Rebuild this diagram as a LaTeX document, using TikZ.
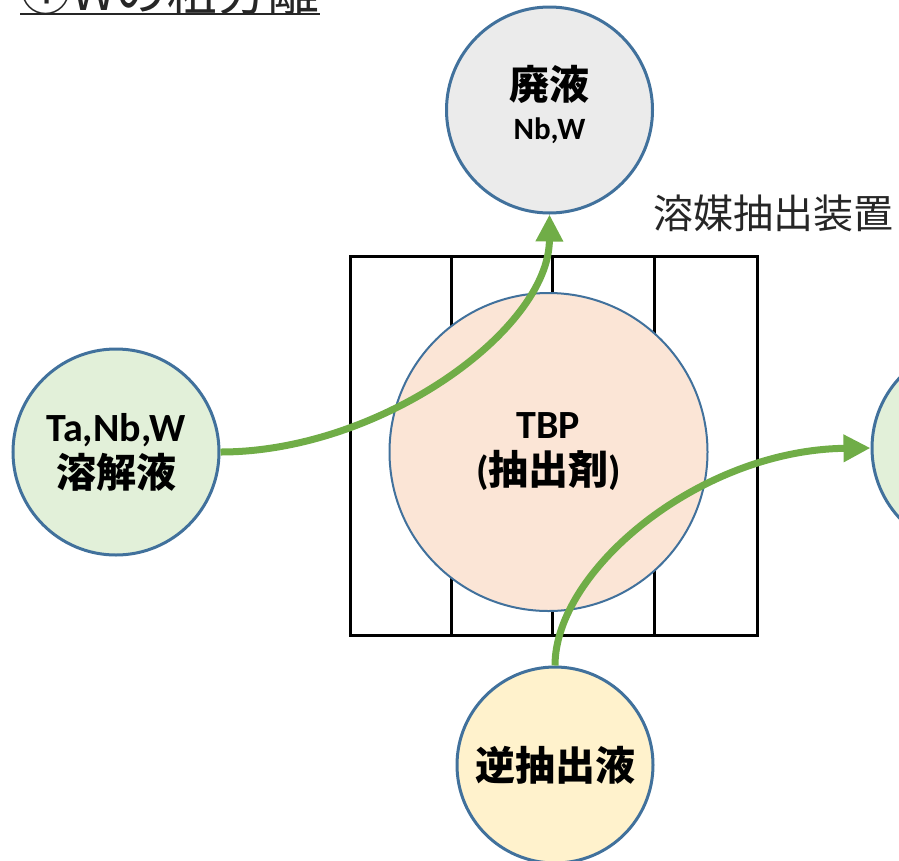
\documentclass[tikz,border=0pt]{standalone}
\usepackage{fontspec}
\usetikzlibrary{arrows.meta}
\newfontfamily\jp{Noto Sans CJK JP}
\newfontfamily\lat{Carlito}
\definecolor{bordblue}{HTML}{41719C}
\definecolor{flowgreen}{HTML}{70AD47}
\definecolor{grayfill}{HTML}{EBEBEB}
\definecolor{greenfill}{HTML}{E2F0D9}
\definecolor{pinkfill}{HTML}{FBE5D6}
\definecolor{yellowfill}{HTML}{FFF2CC}
\definecolor{textgray}{HTML}{262626}
\tikzset{
  tank/.style={circle, draw=bordblue, line width=3pt, inner sep=0pt, minimum size=206pt, align=center},
  flow/.style={draw=flowgreen, line width=7pt, -{Triangle[length=27pt,width=26pt]}},
  bigtxt/.style={font=\bfseries\fontsize{40}{46}\selectfont},
}
\newcommand{\latb}[1]{{\lat\bfseries #1}}
\newcommand{\jpb}[1]{{\jp\bfseries #1}}
\begin{document}
\begin{tikzpicture}[x=1pt,y=-1pt]
\useasboundingbox (0,0) rectangle (899,860);
% title
\node[anchor=base west, inner sep=0pt, text=textgray, font=\jp\fontsize{51}{51}\selectfont] (title) at (20,10) {①Wの粗分離};
\draw[textgray, line width=2pt] ([yshift=-4pt]title.base west) -- ([yshift=-4pt]title.base east);
% device label
\node[anchor=west, inner sep=0pt, text=textgray, font=\jp\fontsize{40}{40}\selectfont] (dev) at (653,213) {溶媒抽出装置};
% extraction device
\node[draw=black, line width=3pt, fill=white, minimum width=407pt, minimum height=379pt, inner sep=0pt] (box) at (553.5,445.5) {};
\foreach \x in {451,552,654} \draw[black, line width=3pt] (\x,256) -- (\x,635);
% TBP
\node[circle, draw=bordblue, line width=2pt, fill=pinkfill, minimum size=318pt, inner sep=0pt, align=center, bigtxt] (tbp) at (548.5,452) {\latb{TBP}\\\latb{(}\jpb{抽出剤}\latb{)}};
% tanks
\node[tank, fill=grayfill] (waste) at (549.5,110) {};
\node[inner sep=0pt, font=\fontsize{40}{40}\selectfont] (wastename) at (549.5,84) {\jpb{廃液}};
\node[inner sep=0pt, font=\fontsize{31}{31}\selectfont] (wastecontent) at (549.5,131) {\latb{Nb,W}};
\node[tank, fill=greenfill, bigtxt] (src) at (116,452) {\latb{Ta,Nb,W}\\\jpb{溶解液}};
\node[tank, fill=yellowfill, minimum size=196pt, bigtxt] (back) at (555,765) {\jpb{逆抽出液}};
\node[tank, fill=greenfill] (prod) at (975,448) {};
% flows
\draw[flow] (src.east) .. controls (380,452) and (549,330) .. (waste.south);
\draw[flow] (back.north) .. controls (555,570) and (700,450) .. (prod.west);
\end{tikzpicture}
\end{document}
